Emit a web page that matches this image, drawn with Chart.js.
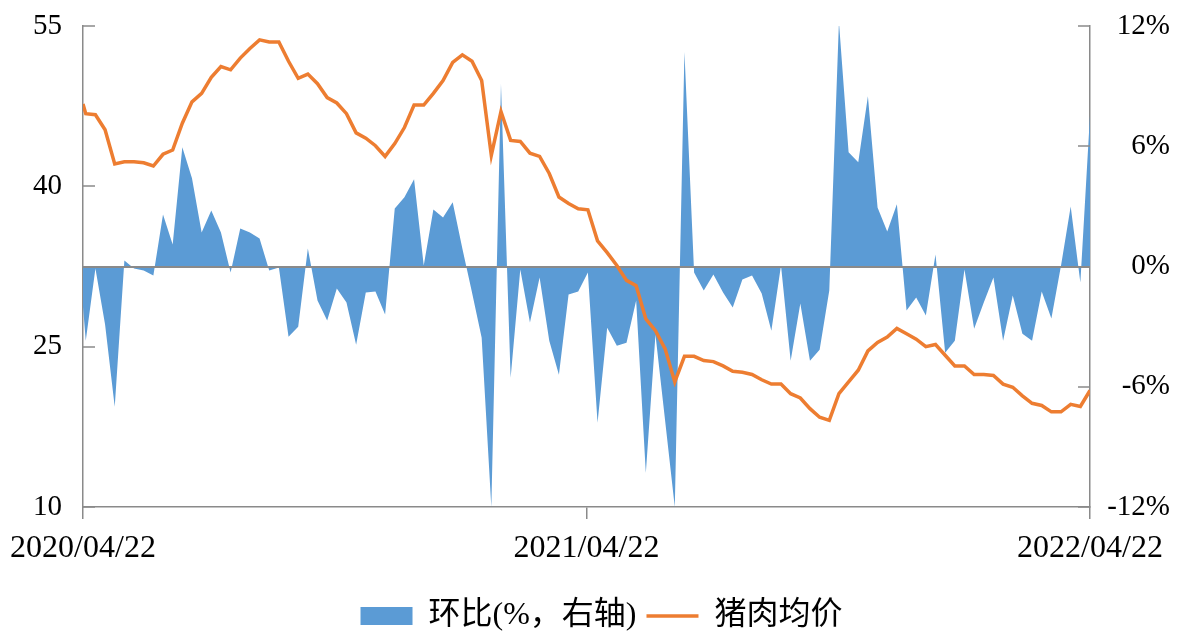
<!DOCTYPE html>
<html>
<head>
<meta charset="utf-8">
<title>猪肉均价</title>
<script src="https://cdn.jsdelivr.net/npm/chart.js@4.4.1/dist/chart.umd.min.js"></script>
<style>
  html, body { margin: 0; padding: 0; background: #fff; }
  #wrap { width: 1183px; height: 632px; }
</style>
</head>
<body>
<div id="wrap"><canvas id="chart"></canvas></div>
<script>
// first sample sits on 2020/04/22, the rest are weekly from 2020/04/24
const firstDate = '2020/04/22';
const weeklyStart = [2020, 3, 24];
const weekCount = 105;

const xTickDays = [0, 365, 730];
const xTickLabels = ['2020/04/22', '2021/04/22', '2022/04/22'];
const leftTicks = [10, 25, 40, 55];
const rightTicks = [-12, -6, 0, 6, 12];

// 猪肉均价 (left axis)
const price = [
  47.7, 46.8, 46.7, 45.3, 42.1, 42.3, 42.3, 42.2, 41.9, 43.0,
  43.4, 45.9, 47.9, 48.7, 50.2, 51.2, 50.9, 52.0, 52.9, 53.7,
  53.5, 53.5, 51.7, 50.1, 50.5, 49.6, 48.3, 47.8, 46.8, 45.0,
  44.5, 43.8, 42.8, 44.0, 45.5, 47.6, 47.6, 48.7, 49.9, 51.6,
  52.3, 51.7, 49.9, 42.9, 47.0, 44.3, 44.2, 43.1, 42.8, 41.2,
  39.0, 38.4, 37.9, 37.8, 34.9, 33.8, 32.6, 31.2, 30.7, 27.6,
  26.5, 24.8, 21.7, 24.1, 24.1, 23.7, 23.6, 23.2, 22.7, 22.6,
  22.4, 21.9, 21.5, 21.5, 20.6, 20.2, 19.2, 18.4, 18.1, 20.6,
  21.7, 22.8, 24.6, 25.4, 25.9, 26.7, 26.2, 25.7, 25.0, 25.2,
  24.2, 23.2, 23.2, 22.4, 22.4, 22.3, 21.5, 21.2, 20.4, 19.7,
  19.5, 18.9, 18.9, 19.6, 19.4, 20.9
];

// 环比 % (right axis)
const pct = [
  -2.0, -3.7, -0.1, -2.9, -7.0, 0.3, -0.1, -0.2, -0.45, 2.6,
  1.1, 5.95, 4.4, 1.7, 2.8, 1.7, -0.3, 1.9, 1.7, 1.4,
  -0.2, -0.05, -3.5, -3.0, 0.9, -1.7, -2.7, -1.1, -1.8, -3.9,
  -1.3, -1.25, -2.4, 2.9, 3.45, 4.35, 0.05, 2.85, 2.45, 3.2,
  0.9, -1.3, -3.55, -12.0, 9.1, -5.55, -0.15, -2.8, -0.55, -3.7,
  -5.4, -1.4, -1.25, -0.3, -7.8, -3.05, -3.95, -3.8, -1.7, -10.3,
  -3.4, -7.7, -12.0, 10.7, -0.3, -1.2, -0.4, -1.3, -2.05, -0.65,
  -0.45, -1.35, -3.2, 0.05, -4.7, -1.85, -4.7, -4.15, -1.2, 12.2,
  5.7, 5.2, 8.5, 2.95, 1.75, 3.1, -2.2, -1.55, -2.45, 0.6,
  -4.3, -3.7, -0.15, -3.1, -1.8, -0.55, -3.7, -1.45, -3.35, -3.7,
  -1.25, -2.6, 0.05, 3.0, -0.8, 7.55
];

const blue = '#5b9bd5';
const orange = '#ed7d31';
const axisGray = '#8a8a8a';
const serif = "'Liberation Serif', 'Times New Roman', 'Noto Sans CJK SC', serif";

const pad = n => String(n).padStart(2, '0');
const fmt = d => d.getFullYear() + '/' + pad(d.getMonth() + 1) + '/' + pad(d.getDate());

const dates = [firstDate];
for (let k = 0; k < weekCount; k++) {
  dates.push(fmt(new Date(weeklyStart[0], weeklyStart[1], weeklyStart[2] + 7 * k)));
}
const t0 = new Date(firstDate).getTime();
const days = dates.map(d => Math.round((new Date(d).getTime() - t0) / 86400000));

const axisDecor = {
  id: 'axisDecor',
  afterDatasetDraw(chart, args) {
    if (args.index !== 0) return;
    const {ctx, chartArea: a, scales} = chart;
    ctx.save();
    ctx.strokeStyle = axisGray;
    ctx.lineWidth = 2;
    const y0 = Math.round(scales.y1.getPixelForValue(0));
    ctx.beginPath();
    ctx.moveTo(a.left, y0);
    ctx.lineTo(a.right, y0);
    ctx.stroke();
    ctx.lineWidth = 1.5;
    ctx.beginPath();
    leftTicks.forEach(v => {
      const y = Math.round(scales.y.getPixelForValue(v));
      ctx.moveTo(a.left, y);
      ctx.lineTo(a.left + 12, y);
    });
    rightTicks.forEach(v => {
      const y = Math.round(scales.y1.getPixelForValue(v));
      ctx.moveTo(a.right - 12, y);
      ctx.lineTo(a.right, y);
    });
    ctx.stroke();
    ctx.restore();
  }
};

new Chart(document.getElementById('chart'), {
  type: 'line',
  data: {
    datasets: [
      {
        label: '环比(%，右轴)',
        data: pct.map((v, i) => ({x: days[i], y: v})),
        yAxisID: 'y1',
        order: 1,
        fill: 'origin',
        backgroundColor: blue,
        borderColor: 'rgba(0,0,0,0)',
        borderWidth: 0,
        pointRadius: 0,
        pointStyle: 'rect',
        tension: 0
      },
      {
        label: '猪肉均价',
        data: price.map((v, i) => ({x: days[i], y: v})),
        yAxisID: 'y',
        order: 0,
        fill: false,
        borderColor: orange,
        backgroundColor: orange,
        borderWidth: 3.5,
        pointRadius: 0,
        pointStyle: 'line',
        tension: 0
      }
    ]
  },
  options: {
    responsive: true,
    maintainAspectRatio: false,
    devicePixelRatio: 1,
    animation: false,
    events: [],
    layout: { padding: { top: 26, left: 33, right: 13, bottom: -10 } },
    scales: {
      x: {
        type: 'linear',
        min: 0,
        max: 730,
        afterBuildTicks: s => { s.ticks = xTickDays.map(v => ({value: v})); },
        afterFit: s => { s.height = 83; },
        ticks: {
          callback: v => xTickLabels[xTickDays.indexOf(v)],
          font: { family: serif, size: 32 },
          color: '#000',
          padding: 10,
          maxRotation: 0,
          autoSkip: false
        },
        grid: { display: true, drawOnChartArea: false, drawTicks: true, tickLength: 12, color: axisGray, lineWidth: 1.5 },
        border: { display: true, color: axisGray, width: 1.5 }
      },
      y: {
        position: 'left',
        min: 10,
        max: 55,
        afterBuildTicks: s => { s.ticks = leftTicks.map(v => ({value: v})); },
        afterFit: s => { s.width = 50; },
        ticks: { font: { family: serif, size: 29 }, color: '#000', padding: 0, crossAlign: 'far' },
        grid: { display: false },
        border: { display: true, color: axisGray, width: 1.5 }
      },
      y1: {
        position: 'right',
        min: -12,
        max: 12,
        afterBuildTicks: s => { s.ticks = rightTicks.map(v => ({value: v})); },
        afterFit: s => { s.width = 80; },
        ticks: { font: { family: serif, size: 29 }, color: '#000', padding: 0, crossAlign: 'far', callback: v => v + '%' },
        grid: { display: false },
        border: { display: true, color: axisGray, width: 1.5 }
      }
    },
    plugins: {
      tooltip: { enabled: false },
      legend: {
        position: 'bottom',
        labels: {
          usePointStyle: true,
          pointStyleWidth: 52,
          boxHeight: 18,
          padding: 10,
          color: '#000',
          font: { family: serif, size: 32 },
          sort: (a, b) => a.datasetIndex - b.datasetIndex
        }
      }
    }
  },
  plugins: [axisDecor]
});
</script>
</body>
</html>
